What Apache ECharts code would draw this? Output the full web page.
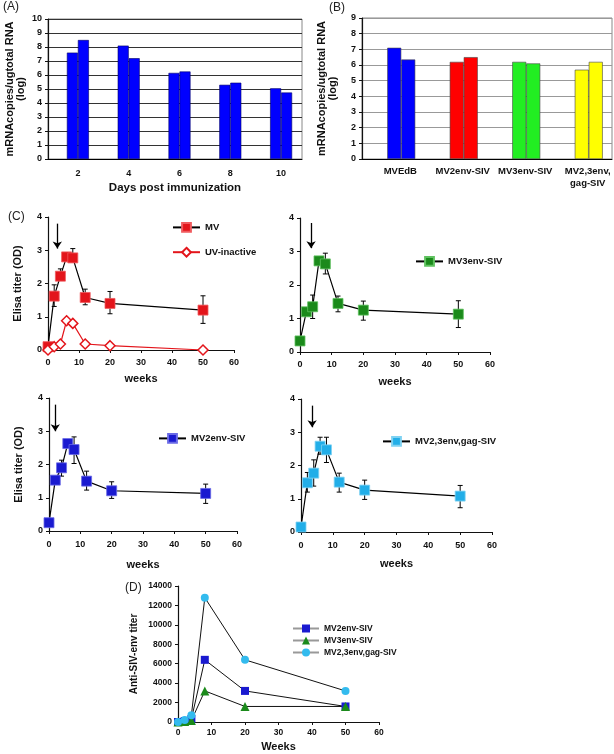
<!DOCTYPE html>
<html>
<head>
<meta charset="utf-8">
<title>MV-SIV vectors: RNA and Elisa titers</title>
<script src="https://cdn.jsdelivr.net/npm/echarts@6/dist/echarts.min.js"></script>
<style>
html, body { margin: 0; padding: 0; background: #fff; }
#chart { width: 614px; height: 754px; }
</style>
</head>
<body>
<div id="chart"></div>
<script>
var FONT = 'Liberation Sans';

// (A) RNA after immunization
var daysA = ['2', '4', '6', '8', '10'];
var rnaA1 = [7.6, 8.1, 6.15, 5.3, 5.05];
var rnaA2 = [8.5, 7.2, 6.25, 5.45, 4.75];

// (B) RNA per vector
var vectorsB = ['MVEdB', 'MV2env-SIV', 'MV3env-SIV', 'MV2,3env,\ngag-SIV'];
var rnaB1 = [7.1, 6.2, 6.2, 5.7];
var rnaB2 = [6.35, 6.5, 6.1, 6.2];
var colorsB = ['#0000ff', '#ff0000', '#22ee22', '#ffff00'];

// (C) Elisa titer (OD)
var weeksC = [0, 2, 4, 6, 8, 12, 20, 50];
var mv     = [0.1, 1.62, 2.22, 2.8, 2.77, 1.58, 1.4, 1.2];
var mvHi   = [0.1, 1.96, 2.44, 2.8, 3.05, 1.83, 1.76, 1.63];
var mvLo   = [0.1, 1.31, 2.22, 2.8, 2.77, 1.36, 1.09, 0.8];
var uv     = [0, 0.1, 0.18, 0.88, 0.8, 0.18, 0.13, 0];
var mv3    = [0.33, 1.2, 1.35, 2.72, 2.63, 1.45, 1.25, 1.13];
var mv3Hi  = [0.33, 1.2, 1.7, 2.72, 2.95, 1.67, 1.52, 1.53];
var mv3Lo  = [0.33, 1.2, 1.0, 2.72, 2.33, 1.2, 0.95, 0.73];
var mv2    = [0.25, 1.53, 1.9, 2.63, 2.45, 1.5, 1.21, 1.13];
var mv2Hi  = [0.25, 1.53, 2.13, 2.63, 2.83, 1.8, 1.48, 1.41];
var mv2Lo  = [0.25, 1.53, 1.65, 2.63, 2.03, 1.23, 0.98, 0.83];
var mv23   = [0.15, 1.48, 1.77, 2.58, 2.47, 1.5, 1.26, 1.08];
var mv23Hi = [0.15, 1.79, 2.17, 2.85, 2.85, 1.77, 1.56, 1.4];
var mv23Lo = [0.15, 1.2, 1.38, 2.34, 2.09, 1.2, 0.98, 0.73];

// boost arrows: [week, from, to]
var arrowC1 = [3, 3.8, 3.05];
var arrowC2 = [3.5, 3.85, 3.1];
var arrowC3 = [2, 3.8, 3.0];
var arrowC4 = [3.5, 3.8, 3.15];

// (D) Anti-SIV-env titer
var weeksD = [0, 2, 4, 8, 20, 50];
var titer2  = [0, 100, 300, 6400, 3200, 1600];
var titer3  = [0, 50, 150, 3200, 1600, 1600];
var titer23 = [0, 200, 700, 12800, 6400, 3200];

function pairs(xs, ys) {
    return xs.map(function (x, i) { return [x, ys[i]]; });
}
function triples(xs, lo, hi) {
    return xs.map(function (x, i) { return [x, lo[i], hi[i]]; });
}
function bold(size) {
    return { fontFamily: FONT, fontWeight: 'bold', fontSize: size, color: '#111' };
}

function errorBar(params, api) {
    var x = api.value(0);
    var lo = api.coord([x, api.value(1)]);
    var hi = api.coord([x, api.value(2)]);
    var w = 2.5;
    var st = { stroke: '#000', lineWidth: 1 };
    return {
        type: 'group',
        children: [
            { type: 'line', shape: { x1: lo[0], y1: lo[1], x2: hi[0], y2: hi[1] }, style: st },
            { type: 'line', shape: { x1: hi[0] - w, y1: hi[1], x2: hi[0] + w, y2: hi[1] }, style: st },
            { type: 'line', shape: { x1: lo[0] - w, y1: lo[1], x2: lo[0] + w, y2: lo[1] }, style: st }
        ]
    };
}

var grids = [], xAxes = [], yAxes = [], series = [], legends = [];

function valueAxis(g, extra) {
    var ax = {
        type: 'value', gridIndex: g,
        axisLine: { show: true, lineStyle: { color: '#111', width: 1.2 } },
        axisTick: { show: true, length: 3, lineStyle: { color: '#111' } },
        splitLine: { show: false },
        axisLabel: bold(9)
    };
    for (var k in extra) ax[k] = extra[k];
    return ax;
}

// ---- (A)
grids.push({ left: 48, top: 19, width: 254, height: 140, show: true, borderColor: '#888', borderWidth: 1 });
xAxes.push({
    type: 'category', gridIndex: 0, data: daysA,
    axisLine: { lineStyle: { color: '#000' } },
    axisTick: { length: 4, lineStyle: { color: '#000' } },
    axisLabel: Object.assign(bold(9), { margin: 10, padding: [0, 0, 0, 9] }),
    name: 'Days post immunization', nameLocation: 'middle', nameGap: 23,
    nameTextStyle: bold(11.5)
});
yAxes.push(valueAxis(0, {
    min: 0, max: 10, interval: 1,
    axisLabel: Object.assign(bold(9), { margin: 6 }),
    splitLine: { show: true, lineStyle: { color: '#333', width: 1 } },
    name: 'mRNAcopies/ugtotal RNA\n(log)', nameLocation: 'middle', nameGap: 22,
    nameTextStyle: Object.assign(bold(11), { lineHeight: 11 })
}));
// empty slot: the original bars sit right of the band centre
series.push({ type: 'bar', xAxisIndex: 0, yAxisIndex: 0, barWidth: 9, barGap: '0%', data: [], silent: true });
[rnaA1, rnaA2].forEach(function (vals) {
    series.push({
        type: 'bar', xAxisIndex: 0, yAxisIndex: 0, barWidth: 11, barGap: '0%', data: vals,
        itemStyle: { color: '#0000ff', borderColor: '#000066', borderWidth: 0.6 }
    });
});

// ---- (B)
grids.push({ left: 362, top: 18, width: 250, height: 141, show: true, borderColor: '#888', borderWidth: 1 });
xAxes.push({
    type: 'category', gridIndex: 1, data: vectorsB,
    axisLine: { lineStyle: { color: '#000' } },
    axisTick: { length: 4, lineStyle: { color: '#000' } },
    axisLabel: Object.assign(bold(9.5), { margin: 6, padding: [0, 0, 0, 14], lineHeight: 12, interval: 0 })
});
yAxes.push(valueAxis(1, {
    min: 0, max: 9, interval: 1,
    axisLabel: Object.assign(bold(9), { margin: 6 }),
    splitLine: { show: true, lineStyle: { color: '#999', width: 1 } },
    name: 'mRNAcopies/ugtotal RNA\n(log)', nameLocation: 'middle', nameGap: 24,
    nameTextStyle: Object.assign(bold(11), { lineHeight: 11 })
}));
series.push({ type: 'bar', xAxisIndex: 1, yAxisIndex: 1, barWidth: 16, barGap: '0%', data: [], silent: true });
[rnaB1, rnaB2].forEach(function (vals) {
    series.push({
        type: 'bar', xAxisIndex: 1, yAxisIndex: 1, barWidth: 14, barGap: '0%',
        data: vals.map(function (v, i) { return { value: v, itemStyle: { color: colorsB[i] } }; }),
        itemStyle: { borderColor: '#444', borderWidth: 0.6 }
    });
});

// ---- (C)
function addElisa(cfg) {
    var g = grids.length;
    grids.push({ left: cfg.box[0], top: cfg.box[1], width: cfg.box[2], height: cfg.box[3] });
    xAxes.push(valueAxis(g, {
        min: 0, max: 60, interval: 10,
        axisLabel: Object.assign(bold(9), { margin: cfg.labelGap }),
        name: 'weeks', nameLocation: 'middle', nameGap: cfg.nameGap, nameTextStyle: bold(11)
    }));
    yAxes.push(valueAxis(g, {
        min: 0, max: 4, interval: 1,
        axisLabel: Object.assign(bold(9), { margin: 6 }),
        name: cfg.yName || '', nameLocation: 'middle', nameGap: 25, nameTextStyle: bold(11)
    }));
    cfg.lines.forEach(function (ln, idx) {
        if (ln.hi) {
            series.push({
                type: 'custom', xAxisIndex: g, yAxisIndex: g, silent: true, z: 2,
                renderItem: errorBar, encode: { x: 0, y: [1, 2] },
                data: triples(weeksC, ln.lo, ln.hi)
            });
        }
        var s = {
            type: 'line', name: ln.name, xAxisIndex: g, yAxisIndex: g, z: 3,
            data: pairs(weeksC, ln.values),
            symbol: ln.symbol || 'rect', symbolSize: ln.size || 10,
            lineStyle: { color: ln.line || '#000', width: 1.2 },
            itemStyle: ln.item
        };
        if (idx === 0) {
            s.markLine = {
                silent: true, symbol: ['none', 'arrow'], symbolSize: 7,
                lineStyle: { color: '#000', width: 1.3, type: 'solid' },
                label: { show: false },
                data: [[{ coord: [cfg.arrow[0], cfg.arrow[1]] }, { coord: [cfg.arrow[0], cfg.arrow[2]] }]]
            };
        }
        series.push(s);
    });
    legends.push({
        orient: 'vertical', left: cfg.legend[0], top: cfg.legend[1],
        itemWidth: 27, itemHeight: 11, itemGap: cfg.legendGap || 10,
        textStyle: bold(9.5), selectedMode: false,
        data: cfg.lines.map(function (ln) { return ln.name; })
    });
}

addElisa({
    box: [48, 217, 186, 133], labelGap: 8, nameGap: 23, yName: 'Elisa titer (OD)',
    arrow: arrowC1, legend: [167, 217], legendGap: 14,
    lines: [
        { name: 'MV', values: mv, lo: mvLo, hi: mvHi,
          item: { color: '#e3151b', borderColor: '#f05a5e', borderWidth: 0.8 } },
        { name: 'UV-inactive', values: uv, symbol: 'diamond', size: 10, line: '#e3151b',
          item: { color: '#fff', borderColor: '#e3151b', borderWidth: 1.5 } }
    ]
});
addElisa({
    box: [300, 218, 190, 134], labelGap: 8, nameGap: 24,
    arrow: arrowC2, legend: [410, 251],
    lines: [
        { name: 'MV3env-SIV', values: mv3, lo: mv3Lo, hi: mv3Hi,
          item: { color: '#1b8a1b', borderColor: '#5fc25f', borderWidth: 0.8 } }
    ]
});
addElisa({
    box: [49, 398, 188, 133], labelGap: 9, nameGap: 28, yName: 'Elisa titer (OD)',
    arrow: arrowC3, legend: [153, 428],
    lines: [
        { name: 'MV2env-SIV', values: mv2, lo: mv2Lo, hi: mv2Hi,
          item: { color: '#1a1ad0', borderColor: '#6a6ae6', borderWidth: 0.8 } }
    ]
});
addElisa({
    box: [301, 399, 191, 133], labelGap: 9, nameGap: 26,
    arrow: arrowC4, legend: [377, 431],
    lines: [
        { name: 'MV2,3env,gag-SIV', values: mv23, lo: mv23Lo, hi: mv23Hi,
          item: { color: '#22aee8', borderColor: '#7fd2f2', borderWidth: 0.8 } }
    ]
});

// ---- (D)
var gD = grids.length;
grids.push({ left: 178, top: 586, width: 201, height: 136 });
xAxes.push(valueAxis(gD, {
    min: 0, max: 60, interval: 10,
    axisLabel: Object.assign(bold(8.5), { margin: 6 }),
    name: 'Weeks', nameLocation: 'middle', nameGap: 19, nameTextStyle: bold(11)
}));
yAxes.push(valueAxis(gD, {
    min: 0, max: 14000, interval: 2000,
    axisLabel: Object.assign(bold(8.5), { margin: 6, formatter: function (v) { return String(v); } }),
    name: 'Anti-SIV-env titer', nameLocation: 'middle', nameGap: 39, nameTextStyle: bold(10)
}));
var linesD = [
    { name: 'D MV2env-SIV', values: titer2, symbol: 'rect', size: 8, color: '#1a1ad0' },
    { name: 'D MV3env-SIV', values: titer3, symbol: 'triangle', size: 9, color: '#1b8a1b' },
    { name: 'D MV2,3env,gag-SIV', values: titer23, symbol: 'circle', size: 8, color: '#33bbee' }
];
linesD.forEach(function (ln) {
    series.push({
        type: 'line', name: ln.name, xAxisIndex: gD, yAxisIndex: gD,
        data: pairs(weeksD, ln.values), symbol: ln.symbol, symbolSize: ln.size,
        lineStyle: { color: '#111', width: 1 }, itemStyle: { color: ln.color }
    });
});
legends.push({
    orient: 'vertical', left: 287, top: 619, itemWidth: 26, itemHeight: 10, itemGap: 3,
    textStyle: bold(8.5), selectedMode: false,
    lineStyle: { color: '#999' },
    data: linesD.map(function (ln) { return ln.name; }),
    formatter: function (name) { return name.replace(/^D /, ''); }
});

var panelTag = function (text, x, y) {
    return { type: 'text', left: x, top: y, style: { text: text, font: '12px ' + FONT, fill: '#222' } };
};

var chart = echarts.init(document.getElementById('chart'));
chart.setOption({
    animation: false,
    textStyle: { fontFamily: FONT },
    grid: grids, xAxis: xAxes, yAxis: yAxes, series: series, legend: legends,
    graphic: [
        panelTag('(A)', 3, 1),
        panelTag('(B)', 329, 2),
        panelTag('(C)', 8, 211),
        panelTag('(D)', 125, 582)
    ]
});
</script>
</body>
</html>
